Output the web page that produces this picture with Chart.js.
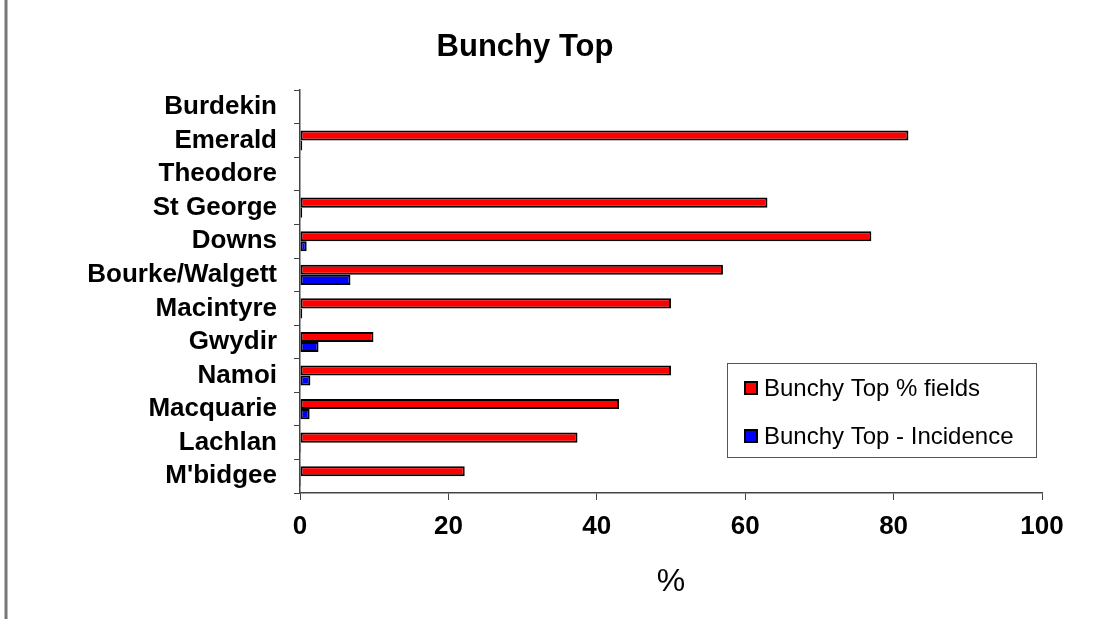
<!DOCTYPE html>
<html>
<head>
<meta charset="utf-8">
<script src="https://cdn.jsdelivr.net/npm/chart.js@4.4.1/dist/chart.umd.min.js"></script>
<style>
  html, body { margin: 0; padding: 0; background: #fff; }
  #wrap { width: 1113px; height: 619px; position: relative; }
</style>
</head>
<body>
<div id="wrap"><canvas id="myChart"></canvas></div>
<script>
// regions, top to bottom
const regions = ['Burdekin', 'Emerald', 'Theodore', 'St George', 'Downs', 'Bourke/Walgett',
    'Macintyre', 'Gwydir', 'Namoi', 'Macquarie', 'Lachlan', "M'bidgee"];
// % of fields with bunchy top
const pctFields = [null, 82, null, 63, 77, 57, 50, 9.9, 50, 43, 37.4, 22.2];
// incidence
const incidence = [null, 0.3, null, 0.3, 0.9, 6.8, 0.3, 2.5, 1.4, 1.3, 0.15, 0.15];
const xTicks = [0, 20, 40, 60, 80, 100];

// left edge line of the slide + boxed legend in the plot
const extras = {
    id: 'extras',
    beforeDraw(chart) {
        const ctx = chart.ctx;
        ctx.save();
        ctx.fillStyle = '#fff';
        ctx.fillRect(0, 0, chart.width, chart.height);
        ctx.strokeStyle = '#777';
        ctx.lineWidth = 3;
        ctx.beginPath();
        ctx.moveTo(6, 0);
        ctx.lineTo(6, chart.height);
        ctx.stroke();
        ctx.restore();
    },
    afterDraw(chart) {
        const ctx = chart.ctx;
        const bx = 727, by = 363, bw = 309, bh = 94;
        ctx.save();
        ctx.strokeStyle = '#555';
        ctx.lineWidth = 1;
        ctx.strokeRect(bx + 0.5, by + 0.5, bw, bh);
        ctx.font = '24px "Liberation Sans", Arial, sans-serif';
        ctx.textBaseline = 'middle';
        const rows = [388, 436];
        chart.data.datasets.forEach((ds, i) => {
            const y = rows[i];
            ctx.fillStyle = ds.backgroundColor;
            ctx.fillRect(745, y - 6, 12, 12);
            ctx.strokeStyle = '#000';
            ctx.lineWidth = 2;
            ctx.strokeRect(745, y - 6, 12, 12);
            ctx.fillStyle = '#000';
            ctx.fillText(ds.label, 764, y + 1);
        });
        ctx.restore();
    }
};

const chartEl = document.getElementById('myChart');
const myChart = new Chart(chartEl, {
    type: 'bar',
    data: {
        labels: regions,
        datasets: [{
            label: 'Bunchy Top % fields',
            data: pctFields,
            backgroundColor: '#ff0000',
            borderColor: '#000',
            borderWidth: 2,
            borderSkipped: false,
            categoryPercentage: 0.6,
            barPercentage: 1.0
        }, {
            label: 'Bunchy Top - Incidence',
            data: incidence,
            backgroundColor: '#0000ff',
            borderColor: '#000',
            borderWidth: 2,
            borderSkipped: false,
            categoryPercentage: 0.6,
            barPercentage: 1.0
        }]
    },
    options: {
        indexAxis: 'y',
        responsive: true,
        maintainAspectRatio: false,
        animation: false,
        layout: {
            padding: { left: 8, right: 71, top: 0, bottom: 0 }
        },
        scales: {
            x: {
                min: 0,
                max: 100,
                afterBuildTicks: (axis) => {
                    axis.ticks = xTicks.map(v => ({ value: v }));
                },
                afterFit: (axis) => { axis.height = 126; },
                grid: {
                    drawOnChartArea: false,
                    tickLength: 7,
                    color: '#444'
                },
                border: { color: '#444', width: 1.5 },
                ticks: {
                    color: '#000',
                    padding: 11,
                    font: { family: '"Liberation Sans", Arial, sans-serif', size: 26, weight: 'bold' }
                },
                title: {
                    display: true,
                    text: '%',
                    color: '#000',
                    padding: { top: 0, bottom: 18 },
                    font: { family: '"Liberation Sans", Arial, sans-serif', size: 32 }
                }
            },
            y: {
                afterFit: (axis) => { axis.width = 292; },
                grid: {
                    drawOnChartArea: false,
                    tickLength: 6,
                    offset: true,
                    color: '#444'
                },
                border: { color: '#444', width: 1.5 },
                ticks: {
                    color: '#000',
                    padding: 17,
                    autoSkip: false,
                    font: { family: '"Liberation Sans", Arial, sans-serif', size: 26, weight: 'bold' }
                }
            }
        },
        plugins: {
            legend: { display: false },
            tooltip: { enabled: false },
            title: {
                display: true,
                text: 'Bunchy Top',
                color: '#000',
                padding: { top: 29, bottom: 24 },
                font: { family: '"Liberation Sans", Arial, sans-serif', size: 31, weight: 'bold' }
            }
        }
    },
    plugins: [extras]
});
</script>
</body>
</html>
